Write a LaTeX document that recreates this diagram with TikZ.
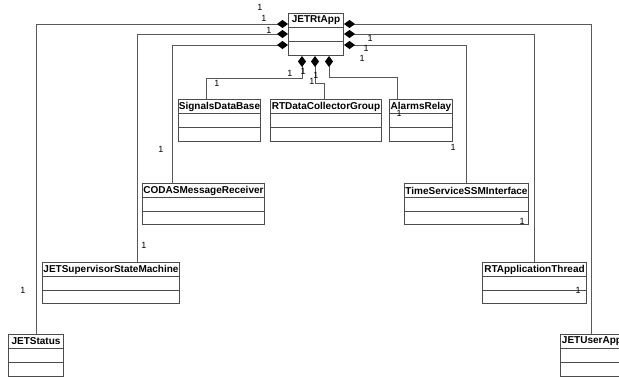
\documentclass[tikz,border=0pt]{standalone}
\usepackage{fontspec}
\setmainfont{Liberation Sans}
\usetikzlibrary{arrows.meta,calc}
\tikzset{
  clsbox/.style={draw=black!70, line width=1pt, inner sep=0pt, fill=white},
  clstitle/.style={inner sep=0pt, font=\fontsize{10}{10}\selectfont\bfseries},
  clsline/.style={draw=black!70, line width=1pt},
  comp/.style={draw=black!65, line width=1pt, {Diamond[length=11pt,width=8pt,color=black]}-},
  mult/.style={inner sep=0pt, font=\fontsize{9}{9}\selectfont},
}
\newcommand{\umlcls}[6]{%
  \node[clsbox, minimum width={#4-#2}, minimum height={#5-#3}, anchor=north west] (#1) at (#2,#3) {};
  \node[clstitle] at ($(#1.north)+(0,7.5)$) {#6};
  \draw[clsline] ([yshift=-14pt]#1.north west) -- ([yshift=-14pt]#1.north east);
  \draw[clsline] ([yshift=-28pt]#1.north west) -- ([yshift=-28pt]#1.north east);
}
\begin{document}
\begin{tikzpicture}[x=1pt,y=-1pt]
\useasboundingbox (0,0) rectangle (619,378);
\clip (0,0) rectangle (619,378);
\fill[white] (0,0) rectangle (619,378);
% classes
\umlcls{app}{288}{13}{343}{55}{JETRtApp}
\umlcls{sig}{178}{99}{260}{141}{SignalsDataBase}
\umlcls{rtdc}{270}{99}{381}{141}{RTDataCollectorGroup}
\umlcls{alarm}{389}{99}{452}{141}{AlarmsRelay}
\umlcls{codas}{142}{183}{264}{224}{CODASMessageReceiver}
\umlcls{tss}{404}{183}{528}{224}{TimeServiceSSMInterface}
\umlcls{sup}{42}{262}{179}{303}{JETSupervisorStateMachine}
\umlcls{rtat}{482}{262}{586}{303}{RTApplicationThread}
\umlcls{status}{8}{334}{63}{376}{JETStatus}
\umlcls{user}{560}{334}{623}{376}{JETUserApp}
% connectors
\draw[comp] ([yshift=-11pt]app.north west) -| (status.north);
\draw[comp] ([yshift=-21pt]app.north west) -| ([xshift=95pt]sup.north west);
\draw[comp] ([yshift=-32pt]app.north west) -| ([xshift=30pt]codas.north west);
\draw[comp] ([yshift=-11pt]app.north east) -| ([xshift=31pt]user.north west);
\draw[comp] ([yshift=-21pt]app.north east) -| (rtat.north);
\draw[comp] ([yshift=-32pt]app.north east) -| (tss.north);
\draw[comp] ([xshift=14pt]app.south west) -- ++(0,22) -| ([xshift=28pt]sig.north west);
\draw[comp] ([xshift=27pt]app.south west) -- ++(0,27) -| ([xshift=54pt]rtdc.north west);
\draw[comp] ([xshift=41pt]app.south west) -- ++(0,21) -| ([xshift=8pt]alarm.north west);
% multiplicities
\node[mult] (m1) at (260,7) {1};
\node[mult] (m2) at (264,18) {1};
\node[mult] (m3) at (269,30) {1};
\node[mult] (m4) at (370,38) {1};
\node[mult] (m5) at (366,48) {1};
\node[mult] (m6) at (362,58) {1};
\node[mult] (m7) at (290,73) {1};
\node[mult] (m8) at (303,71) {1};
\node[mult] (m9) at (312,81) {1};
\node[mult] (m10) at (316,75) {1};
\node[mult] (m11) at (217,83) {1};
\node[mult] (m12) at (399,113) {1};
\node[mult] (m13) at (161,149) {1};
\node[mult] (m14) at (453,147) {1};
\node[mult] (m15) at (144,245) {1};
\node[mult] (m16) at (522,221) {1};
\node[mult] (m17) at (23,290) {1};
\node[mult] (m18) at (578,290) {1};
\end{tikzpicture}
\end{document}
